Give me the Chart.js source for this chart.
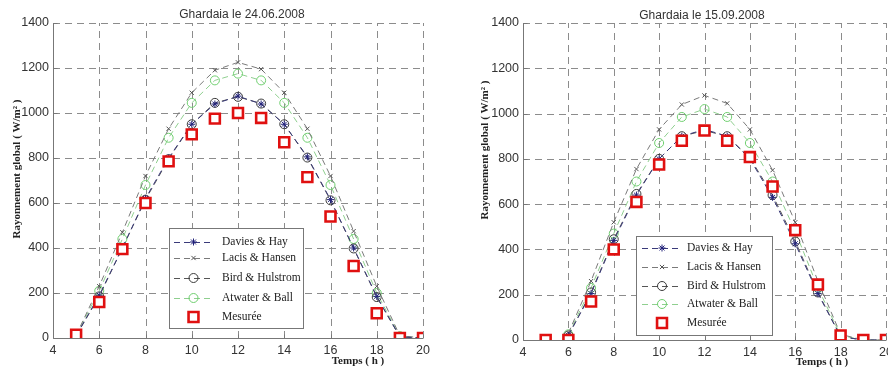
<!DOCTYPE html>
<html><head><meta charset="utf-8">
<script src="https://cdn.jsdelivr.net/npm/chart.js@4.4.0/dist/chart.umd.min.js"></script>
<style>
html,body{margin:0;padding:0;background:#fff;width:888px;height:372px;overflow:hidden;position:relative;}
.wrap{position:absolute;top:0;height:372px;overflow:hidden;}
</style></head><body>
<div class="wrap" style="left:0;width:444px"><canvas id="c1" width="444" height="372"></canvas></div>
<div class="wrap" style="left:444px;width:444px"><canvas id="c2" width="470" height="372"></canvas></div>
<script>
const hours = [5,6,7,8,9,10,11,12,13,14,15,16,17,18,19,20];
const xTicks = [4,6,8,10,12,14,16,18,20];
const yTicks = [0,200,400,600,800,1000,1200,1400];
const seriesNames = ["Davies & Hay","Lacis & Hansen","Bird & Hulstrom","Atwater & Ball","Mesurée"];

// Ghardaia le 24.06.2008
const june_davies  = [10,190,400,620,800,950,1040,1075,1040,950,805,615,400,185,5,0];
const june_lacis   = [12,230,470,720,930,1090,1190,1225,1195,1090,930,720,475,230,10,0];
const june_bird    = [10,185,400,615,795,950,1045,1072,1042,950,802,612,398,182,5,0];
const june_atwater = [12,210,440,680,890,1045,1145,1175,1145,1045,890,680,440,200,8,0];
const june_mesuree = [15,160,395,600,785,905,975,1000,978,870,715,540,320,110,0,0];

// Ghardaia le 15.09.2008
const sept_davies  = [null,20,205,440,640,800,900,930,900,800,630,425,205,15,0,0];
const sept_lacis   = [null,30,260,520,755,930,1040,1080,1045,930,750,520,260,25,0,0];
const sept_bird    = [null,20,210,445,645,800,900,925,900,805,640,435,210,15,0,0];
const sept_atwater = [null,25,230,470,700,870,985,1020,985,870,700,480,230,20,0,0];
const sept_mesuree = [0,0,170,400,610,775,880,925,880,808,678,485,245,20,0,0];

function pts(arr){ const o=[]; arr.forEach((v,i)=>{ if(v!==null) o.push({x:hours[i],y:v}); }); return o; }

const styles = [
  {color:'#22227a', pointStyle:'star', r:3.5, line:'#3a3a7a', bg:'rgba(0,0,0,0)'},
  {color:'#555555', pointStyle:'crossRot', r:3, line:'#7a7a7a', bg:'rgba(0,0,0,0)'},
  {color:'#3a3a3a', pointStyle:'circle', r:4.5, line:'#555555', bg:'rgba(0,0,0,0)'},
  {color:'#6fcf6f', pointStyle:'circle', r:4.5, line:'#8fcf8f', bg:'rgba(0,0,0,0)'},
  {color:'#e01010', pointStyle:'rect', r:7, line:null, bg:'#ffffff'}
];

function makeDatasets(list){
  return list.map((arr,i)=>{
    const s = styles[i];
    const isMes = i===4;
    return {
      label: seriesNames[i],
      data: pts(arr),
      showLine: !isMes,
      borderColor: isMes ? s.color : s.line,
      borderWidth: 1,
      borderDash: [6,4],
      pointStyle: s.pointStyle,
      pointRadius: s.r,
      pointBorderColor: s.color,
      pointBackgroundColor: s.bg,
      pointBorderWidth: isMes ? 2.6 : 1,
      tension: 0,
      order: isMes ? -1 : i
    };
  });
}

const dashGrid = {
  id:'dashGrid',
  beforeDatasetsDraw(chart){
    const ctx = chart.ctx, a = chart.chartArea, sx = chart.scales.x, sy = chart.scales.y;
    ctx.save();
    ctx.strokeStyle = '#8c8c8c'; ctx.lineWidth = 1; ctx.setLineDash([7,5]);
    xTicks.forEach(v=>{
      const x = Math.round(sx.getPixelForValue(v))+0.5;
      if (v===4) return;
      ctx.beginPath(); ctx.moveTo(x, a.bottom); ctx.lineTo(x, a.top); ctx.stroke();
    });
    yTicks.forEach(v=>{
      const y = Math.round(sy.getPixelForValue(v))+0.5;
      if (v===0) return;
      ctx.beginPath(); ctx.moveTo(a.left, y); ctx.lineTo(a.right, y); ctx.stroke();
    });
    ctx.setLineDash([]);
    ctx.strokeStyle = '#777';
    // axes
    const L = Math.round(a.left)+0.5, B = Math.round(a.bottom)+0.5;
    ctx.beginPath(); ctx.moveTo(L, a.top); ctx.lineTo(L, B); ctx.lineTo(a.right, B); ctx.stroke();
    // inward ticks
    xTicks.forEach(v=>{ const x = Math.round(sx.getPixelForValue(v))+0.5; ctx.beginPath(); ctx.moveTo(x,B); ctx.lineTo(x,B-4); ctx.stroke(); });
    yTicks.forEach(v=>{ const y = Math.round(sy.getPixelForValue(v))+0.5; ctx.beginPath(); ctx.moveTo(L,y); ctx.lineTo(L+4,y); ctx.stroke(); });
    ctx.restore();
  }
};

const extras = {
  id:'extras',
  afterDraw(chart, args, o){
    const ctx = chart.ctx;
    ctx.save();
    ctx.fillStyle = '#333';
    ctx.font = '12px "Liberation Sans", Arial, sans-serif';
    ctx.textAlign = 'center'; ctx.textBaseline = 'middle';
    ctx.fillText(o.title, o.titleX, o.titleY);
    ctx.save();
    ctx.translate(o.yTitleX, o.yTitleY);
    ctx.rotate(-Math.PI/2);
    ctx.font = 'bold 11px "Liberation Serif", "Times New Roman", serif';
    ctx.fillStyle = '#222';
    ctx.fillText('Rayonnement global ( W/m² )', 0, 0);
    ctx.restore();
    ctx.font = 'bold 11px "Liberation Serif", "Times New Roman", serif';
    ctx.fillStyle = '#222';
    ctx.fillText('Temps ( h )', o.xTitleX, o.xTitleY);
    const L = o.legend;
    ctx.fillStyle = '#fff';
    ctx.fillRect(L.x, L.y, L.w, L.h);
    ctx.strokeStyle = '#777'; ctx.lineWidth = 1;
    ctx.strokeRect(L.x+0.5, L.y+0.5, L.w, L.h);
    chart.data.datasets.forEach((ds,i)=>{
      const y = L.rows[i];
      if (ds.showLine){
        ctx.save();
        ctx.strokeStyle = ds.borderColor; ctx.lineWidth = 1; ctx.setLineDash([6,4]);
        ctx.beginPath(); ctx.moveTo(L.lx1, y+0.5); ctx.lineTo(L.lx2, y+0.5); ctx.stroke();
        ctx.restore();
      }
      ctx.save();
      ctx.strokeStyle = ds.pointBorderColor; ctx.fillStyle = ds.pointBackgroundColor; ctx.lineWidth = ds.pointBorderWidth;
      Chart.helpers.drawPoint(ctx, {pointStyle: ds.pointStyle, radius: ds.pointRadius, borderWidth: ds.pointBorderWidth}, (L.lx1+L.lx2)/2, y);
      ctx.restore();
      ctx.fillStyle = '#222';
      ctx.font = '11.5px "Liberation Serif", "Times New Roman", serif';
      ctx.textAlign = 'left'; ctx.textBaseline = 'middle';
      ctx.fillText(ds.label, L.tx, y);
    });
    ctx.restore();
  }
};

function makeChart(id, lists, cfg){
  return new Chart(document.getElementById(id), {
    type: 'scatter',
    data: { datasets: makeDatasets(lists) },
    plugins: [dashGrid, extras],
    options: {
      responsive: false, animation: false,
      layout: { padding: { top: cfg.top, right: cfg.right, left: 0, bottom: 0 } },
      plugins: { legend:{display:false}, tooltip:{enabled:false}, title:{display:false}, extras: cfg.extras },
      scales: {
        x: {
          type:'linear', min:4, max:20,
          afterBuildTicks(s){ s.ticks = xTicks.map(v=>({value:v})); },
          afterFit(s){ s.height = cfg.xh; s.paddingLeft = 0; s.paddingRight = 0; },
          ticks: { color:'#333', font:{family:'"Liberation Sans", Arial, sans-serif', size:12.5}, padding:5, maxRotation:0, autoSkip:false, callback:v=>String(v) },
          grid: { display:false, drawTicks:false },
          border: { display:false }
        },
        y: {
          min:0, max:1400,
          afterBuildTicks(s){ s.ticks = yTicks.map(v=>({value:v})); },
          afterFit(s){ s.width = cfg.yw; s.paddingTop = 0; s.paddingBottom = 0; },
          ticks: { color:'#333', font:{family:'"Liberation Sans", Arial, sans-serif', size:12.5}, padding:4, autoSkip:false, callback:v=>String(v) },
          grid: { display:false, drawTicks:false },
          border: { display:false }
        }
      }
    }
  });
}

makeChart('c1', [june_davies, june_lacis, june_bird, june_atwater, june_mesuree], {
  top:23, right:21, xh:34, yw:53,
  extras: {
    title:'Ghardaia le 24.06.2008', titleX:242, titleY:15,
    yTitleX:17, yTitleY:169, xTitleX:358, xTitleY:361,
    legend:{x:169, y:228, w:134, h:100, rows:[242,258,278,298,317], lx1:174, lx2:213, tx:222}
  }
});
makeChart('c2', [sept_davies, sept_lacis, sept_bird, sept_atwater, sept_mesuree], {
  top:23, right:28, xh:32, yw:79,
  extras: {
    title:'Ghardaia le 15.09.2008', titleX:258, titleY:16,
    yTitleX:41, yTitleY:150, xTitleX:378, xTitleY:362,
    legend:{x:192, y:236, w:136, h:99, rows:[248,267,286,304,323], lx1:198, lx2:238, tx:243}
  }
});
</script>
</body></html>
